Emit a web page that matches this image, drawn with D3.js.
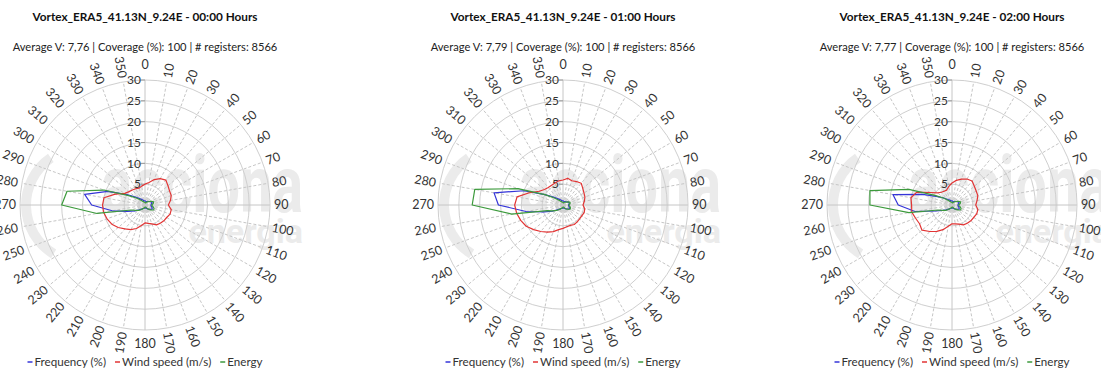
<!DOCTYPE html>
<html><head><meta charset="utf-8">
<script src="https://cdn.jsdelivr.net/npm/d3@7"></script>
<style>html,body{margin:0;padding:0;background:#fff} svg{display:block}</style>
</head><body>
<svg id="chart" width="1101" height="369"></svg>
<script>
// Wind rose panels: frequency, mean speed and energy per 10° sector
const directions = d3.range(0, 360, 10);
const hourLabels = ["00:00", "01:00", "02:00"];
const averageV = ["7,76", "7,79", "7,77"];
const coverage = [100, 100, 100];
const registers = [8566, 8566, 8566];
const ringTicks = [5, 10, 15, 20, 25, 30];
const seriesNames = ["Frequency (%)", "Wind speed (m/s)", "Energy"];

//               0    10   20   30   40   50   60   70   80   90  100  110  120  130  140  150  160  170  180  190  200  210  220  230  240  250  260  270  280  290  300  310  320  330  340  350
const freq00   = [1.0, 0.9, 0.9, 1.0, 1.1, 1.3, 1.6, 1.8, 1.6, 1.4, 1.5, 1.8, 2.0, 1.6, 1.3, 1.0, 0.8, 0.7, 0.7, 0.8, 0.9, 1.0, 1.3, 1.8, 2.8, 4.5, 8.0,12.8,14.7, 9.5, 5.0, 3.0, 2.0, 1.5, 1.2, 1.0];
const speed00  = [5.0, 5.5, 6.5, 7.3, 7.8, 7.2, 6.8, 6.7, 6.2, 5.6, 6.4, 6.4, 6.0, 5.9, 5.7, 5.5, 4.8, 4.5, 4.3, 5.0, 6.0, 6.8, 7.5, 8.4, 9.2, 9.7,10.1,10.2,10.0, 7.6, 5.6, 5.0, 4.7, 4.5, 4.3, 4.6];
const energy00 = [0.6, 0.5, 0.6, 0.8, 1.0, 1.3, 1.8, 2.2, 2.0, 1.6, 1.9, 2.3, 2.4, 1.8, 1.3, 0.9, 0.6, 0.5, 0.5, 0.6, 0.8, 1.0, 1.4, 2.0, 2.6, 3.5,11.7,20.0,19.0,10.5, 4.5, 2.5, 1.5, 1.0, 0.8, 0.7];

const freq01   = [1.0, 0.9, 0.9, 1.0, 1.0, 1.2, 1.4, 1.6, 1.5, 1.3, 1.4, 1.6, 1.8, 1.5, 1.2, 1.0, 0.8, 0.7, 0.7, 0.8, 0.9, 1.0, 1.3, 1.8, 3.0, 4.8, 9.0,15.5,16.8,10.0, 5.0, 3.0, 2.0, 1.5, 1.2, 1.0];
const speed01  = [6.0, 6.5, 6.2, 6.5, 6.8, 6.2, 5.8, 5.6, 5.2, 4.8, 5.3, 5.4, 5.2, 5.2, 5.3, 5.4, 5.2, 5.3, 5.6, 6.0, 6.8, 7.5, 8.3, 9.2,10.2,10.8,11.3,11.6,11.2, 8.6, 6.6, 5.8, 5.5, 5.5, 5.6, 5.9];
const energy01 = [0.6, 0.5, 0.6, 0.8, 0.9, 1.1, 1.5, 1.8, 1.7, 1.4, 1.6, 1.9, 2.0, 1.6, 1.2, 0.9, 0.6, 0.5, 0.5, 0.6, 0.8, 1.0, 1.4, 2.0, 2.8, 4.0,12.5,21.8,21.5,11.5, 5.0, 2.5, 1.5, 1.0, 0.8, 0.7];

const freq02   = [1.0, 0.9, 0.9, 1.0, 1.1, 1.3, 1.6, 1.8, 1.6, 1.4, 1.5, 1.8, 2.0, 1.6, 1.3, 1.0, 0.8, 0.7, 0.7, 0.8, 0.9, 1.0, 1.3, 1.8, 2.6, 4.2, 9.0,12.9,14.4, 7.5, 4.0, 2.6, 1.8, 1.4, 1.2, 1.0];
const speed02  = [5.3, 6.0, 6.6, 7.2, 7.5, 7.0, 6.7, 6.6, 6.1, 5.7, 6.3, 6.3, 6.0, 5.9, 5.7, 5.5, 4.9, 4.6, 4.5, 5.2, 6.3, 7.3, 8.3, 9.4, 9.0, 9.3, 9.8, 9.7,10.0, 9.0, 6.0, 4.5, 4.0, 3.8, 3.8, 4.5];
const energy02 = [0.6, 0.5, 0.6, 0.8, 1.0, 1.3, 1.8, 2.2, 2.0, 1.6, 1.9, 2.3, 2.4, 1.8, 1.3, 0.9, 0.6, 0.5, 0.5, 0.6, 0.8, 1.0, 1.4, 2.0, 2.6, 3.5,10.5,19.7,20.0,11.0, 4.5, 2.5, 1.5, 1.0, 0.8, 0.7];

const panels = [
  { hour: hourLabels[0], avg: averageV[0], cov: coverage[0], reg: registers[0], series: [freq00, speed00, energy00] },
  { hour: hourLabels[1], avg: averageV[1], cov: coverage[1], reg: registers[1], series: [freq01, speed01, energy01] },
  { hour: hourLabels[2], avg: averageV[2], cov: coverage[2], reg: registers[2], series: [freq02, speed02, energy02] }
];

const colors = ["#3434d8", "#e23434", "#3c9a3c"];
const centersX = [145, 563, 952];
const cy = 205, R = 125;
const font = "Lato, 'Open Sans', sans-serif";

const svg = d3.select("#chart");
svg.append("rect").attr("width", 1101).attr("height", 369).attr("fill", "#fff");

const r = d3.scaleLinear().domain([0, 30]).range([0, R]);
const a = d3.scaleLinear().domain([0, 360]).range([0, 2 * Math.PI]);

const line = d3.lineRadial()
  .angle((d, i) => a(directions[i]))
  .radius(d => r(d))
  .curve(d3.curveLinearClosed);

// shrink or grow a text's font so that it spans the given width
function fitWidth(sel, width, size) {
  sel.attr("font-size", size);
  const w = sel.node().getComputedTextLength();
  sel.attr("font-size", size * width / w);
}

panels.forEach((p, k) => {
  const cx = centersX[k];
  const g = svg.append("g");

  // faint company watermark behind the grid
  const wm = g.append("g").attr("fill", "#ebebeb").attr("font-family", "Roboto, sans-serif").attr("font-weight", 700);
  const wx = cx + 158;
  wm.append("text").attr("x", wx).attr("y", cy + 7).attr("text-anchor", "end")
    .attr("font-size", 80).attr("transform", `translate(${wx},0) scale(0.72,1) translate(${-wx},0)`).text("acciona");
  wm.append("text").attr("x", wx).attr("y", cy + 38).attr("text-anchor", "end")
    .attr("font-size", 34).text("energia");
  wm.append("path")
    .attr("d", d3.arc()({ innerRadius: 52, outerRadius: 62, startAngle: -2.6, endAngle: -0.6 }))
    .attr("transform", `translate(${cx - 62},${cy})`);

  const plot = g.append("g").attr("transform", `translate(${cx},${cy})`);

  // rings
  plot.selectAll("circle.ring").data(ringTicks).join("circle")
    .attr("r", d => r(d)).attr("fill", "none").attr("stroke", "#cfcfcf").attr("stroke-width", 1);

  // spokes
  plot.selectAll("line.spoke").data(directions).join("line")
    .attr("x1", 0).attr("y1", 0)
    .attr("x2", d => R * Math.sin(a(d))).attr("y2", d => -R * Math.cos(a(d)))
    .attr("stroke", "#c6c6c6")
    .attr("stroke-width", 1)
    .attr("stroke-dasharray", d => d % 90 === 0 ? null : "3,2");

  // ring tick marks and labels on the north axis
  plot.selectAll("line.tick").data(ringTicks).join("line")
    .attr("x1", -4).attr("x2", 0).attr("y1", d => -r(d)).attr("y2", d => -r(d))
    .attr("stroke", "#999");
  plot.selectAll("text.rl").data(ringTicks).join("text")
    .attr("x", -4).attr("y", d => -r(d)).attr("dy", "0.35em")
    .attr("text-anchor", "end").attr("font-family", font).attr("font-size", 12).attr("fill", "#333")
    .text(d => d);

  // direction labels, oriented along the radius
  plot.selectAll("text.dl").data(directions).join("text")
    .attr("font-family", font).attr("font-size", 12.5).attr("fill", "#333")
    .attr("dy", "0.35em")
    .attr("text-anchor", d => (d === 0 || d === 180) ? "middle" : (d < 180 ? "start" : "end"))
    .attr("transform", d => {
      if (d === 0) return `translate(0,${-(R + 15)})`;
      if (d === 180) return `translate(0,${R + 14})`;
      const x = (R + 4) * Math.sin(a(d)), y = -(R + 4) * Math.cos(a(d));
      const rot = d < 180 ? d - 90 : d - 270;
      return `translate(${x},${y}) rotate(${rot})`;
    })
    .text(d => d);

  // series polygons
  p.series.forEach((vals, s) => {
    plot.append("path").datum(vals).attr("d", line)
      .attr("fill", "none").attr("stroke", colors[s]).attr("stroke-width", 1.2)
      .attr("stroke-linejoin", "round");
  });

  // titles
  const title = g.append("text").attr("x", cx).attr("y", 17).attr("dy", "0.35em").attr("text-anchor", "middle")
    .attr("font-family", font).attr("font-weight", 700).attr("fill", "#111")
    .text(`Vortex_ERA5_41.13N_9.24E - ${p.hour} Hours`);
  fitWidth(title, 225, 12);
  const sub = g.append("text").attr("x", cx).attr("y", 47).attr("dy", "0.35em").attr("text-anchor", "middle")
    .attr("font-family", font).attr("fill", "#222")
    .text(`Average V: ${p.avg} | Coverage (%): ${p.cov} | # registers: ${p.reg}`);
  fitWidth(sub, 265, 12);

  // legend
  const leg = g.append("g").attr("font-family", font).attr("fill", "#333");
  const legSize = 12;
  let x = 0;
  const texts = [];
  seriesNames.forEach((name, s) => {
    const it = leg.append("g");
    it.append("line").attr("x1", 0).attr("x2", 5).attr("y1", 0).attr("y2", 0).attr("stroke", colors[s]).attr("stroke-width", 1.5);
    texts.push(it.append("text").attr("x", 7).attr("dy", "0.35em").attr("font-size", legSize).text(name));
  });
  const raw = d3.sum(texts, t => t.node().getComputedTextLength());
  const scale = (235 - 3 * 7 - 2 * 9) / raw;
  leg.selectAll("g").each(function (_, i) {
    const t = texts[i].attr("font-size", legSize * scale);
    d3.select(this).attr("transform", `translate(${x},0)`);
    x += 7 + t.node().getComputedTextLength() + 9;
  });
  leg.attr("transform", `translate(${cx - (x - 9) / 2},362)`);
});
</script>
</body></html>
